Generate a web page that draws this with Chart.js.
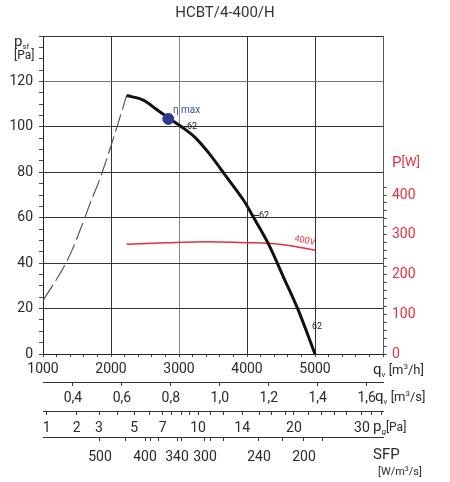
<!DOCTYPE html>
<html>
<head>
<meta charset="utf-8">
<script src="https://cdn.jsdelivr.net/npm/chart.js@4.4.0/dist/chart.umd.min.js"></script>
<style>
html, body { margin: 0; padding: 0; background: #fff; }
#wrap { width: 450px; height: 482px; }
</style>
</head>
<body>
<div id="wrap"><canvas id="c"></canvas></div>
<script>
// fan curve: static pressure [Pa] against air flow [m3/h]
const flowMain = [2230, 2475, 2672, 2843, 3015, 3235, 3456, 3701, 3950, 4070, 4313, 4534, 4754, 5000];
const pressMain = [113.8, 111.8, 107.6, 104.0, 100.5, 95.4, 87.8, 77.9, 67.7, 61.5, 48.6, 34.0, 19.3, 0];

// unstable part of the curve (dashed)
const flowStall = [1005, 1348, 1593, 1691, 1838, 2010, 2132, 2230];
const pressStall = [23.7, 40.6, 58.2, 66.2, 77.2, 92.6, 104.3, 113.8];

// input power [W] at 400V
const flowPower = [2230, 2820, 3400, 4000, 4313, 4730, 5000];
const power = [276, 280, 282.5, 280, 278.5, 270, 261];

// best efficiency point
const etaFlow = [2843];
const etaPress = [103.5];

// tick labels
const flowHourLabels = [1000, 2000, 3000, 4000, 5000];
const pressLabels = [0, 20, 40, 60, 80, 100, 120];
const powerLabels = [0, 100, 200, 300, 400];
const flowSecLabels = [0.4, 0.6, 0.8, 1.0, 1.2, 1.4, 1.6];
const pgTickFlow = [1054, 1496, 1824, 2099, 2340, 2563, 2760, 2893, 3040, 3160, 3280, 3456, 3651, 3930, 4191, 4363, 4560, 4690, 4901, 5099, 5294, 5466, 5690, 5834, 5981];
const pgTickLabels = ['1', '2', '3', '', '5', '', '7', '', '', '', '10', '', '', '14', '', '', '', '20', '', '', '', '', '30', '', ''];
const sfpTickFlow = [1838, 2206, 2500, 2574, 2696, 2971, 3044, 3382, 3456, 3651, 4176, 4529, 4838, 5103];
const sfpTickLabels = ['500', '', '400', '', '', '340', '', '300', '', '', '240', '', '200', ''];

const FONT = 'Roboto';
const TXT = '#2a2a2a';
const RED = '#e2313d';

function pts(xs, ys) {
    return xs.map((x, i) => ({ x: x, y: ys[i] }));
}

function runs(ctx, x, y, parts, color) {
    let cx = x;
    ctx.fillStyle = color;
    ctx.textAlign = 'left';
    ctx.textBaseline = 'middle';
    for (const [t, size, dy] of parts) {
        ctx.font = size + 'px ' + FONT;
        ctx.fillText(t, cx, y + dy);
        cx += ctx.measureText(t).width;
    }
}

const textPlugin = {
    id: 'texts',
    afterDraw(chart) {
        const ctx = chart.ctx;
        const x = chart.scales.x, y = chart.scales.y, p = chart.scales.y2;
        ctx.save();

        // axis captions
        runs(ctx, 14, 42, [['p', 15, 0], ['sf', 8, 5]], TXT);
        runs(ctx, 14, 56, [['[Pa]', 12, 0]], TXT);
        runs(ctx, 392, 163, [['P', 15, 0], ['[W]', 13, 0]], RED);
        runs(ctx, 373, 371, [['q', 15, -1], ['v', 8, 4], [' [m', 13, 0], ['3', 8, -4], ['/h]', 13, 0]], TXT);
        runs(ctx, 375, 398, [['q', 15, -1], ['v', 8, 4], [' [m', 13, 0], ['3', 8, -4], ['/s]', 13, 0]], TXT);
        runs(ctx, 373, 428, [['p', 15, -1], ['g', 8, 4], ['[Pa]', 12, 0]], TXT);
        runs(ctx, 373, 455, [['SFP', 15, 0]], TXT);
        runs(ctx, 378, 472, [['[W/m', 11, 0], ['3', 7, -3], ['/s]', 11, 0]], TXT);

        // eta max
        runs(ctx, x.getPixelForValue(2910), y.getPixelForValue(107), [['η max', 10, 0]], '#3a4aa0');

        // 62 markers along the curve: [flow, pressure, with leader]
        ctx.strokeStyle = '#222';
        ctx.lineWidth = 1;
        const marks = [[3044, 100, true], [4103, 61, true], [4956, 12, false]];
        for (const [q, pr, dash] of marks) {
            const px = x.getPixelForValue(q), py = y.getPixelForValue(pr);
            let tx = px;
            if (dash) {
                ctx.beginPath();
                ctx.moveTo(px, py);
                ctx.lineTo(px + 5, py);
                ctx.stroke();
                tx = px + 5;
            }
            runs(ctx, tx, py, [['62', 9, 0]], '#222');
        }

        // 400V on the power line
        ctx.translate(x.getPixelForValue(4850), p.getPixelForValue(285));
        ctx.rotate(0.22);
        ctx.fillStyle = RED;
        ctx.font = '9px ' + FONT;
        ctx.textAlign = 'center';
        ctx.textBaseline = 'middle';
        ctx.fillText('400V', 0, 0);
        ctx.restore();
    }
};

function setTicks(values) {
    return (scale) => {
        scale.ticks = values.map((v) => ({ value: v }));
    };
}

function range(a, b, step) {
    const out = [];
    for (let v = a; v <= b + 1e-9; v += step) out.push(v);
    return out;
}

const tickFont = { family: FONT, size: 14 };

new Chart(document.getElementById('c'), {
    data: {
        datasets: [
            {
                type: 'scatter',
                data: pts(etaFlow, etaPress),
                backgroundColor: '#2e3a94',
                borderColor: '#2e3a94',
                pointRadius: 5.5,
                order: 0,
            },
            {
                type: 'line',
                data: pts(flowMain, pressMain),
                borderColor: '#111',
                borderWidth: 3,
                pointRadius: 0,
                tension: 0.35,
                order: 1,
            },
            {
                type: 'line',
                data: pts(flowStall, pressStall),
                borderColor: '#555',
                borderWidth: 1.2,
                borderDash: [18, 5],
                pointRadius: 0,
                tension: 0.35,
                order: 2,
            },
            {
                type: 'line',
                data: pts(flowPower, power),
                yAxisID: 'y2',
                borderColor: RED,
                borderWidth: 1.5,
                pointRadius: 0,
                tension: 0.35,
                order: 3,
            },
        ],
    },
    options: {
        responsive: true,
        maintainAspectRatio: false,
        animation: false,
        devicePixelRatio: 1,
        layout: { padding: 0 },
        plugins: {
            legend: { display: false },
            tooltip: { enabled: false },
            title: {
                display: true,
                text: 'HCBT/4-400/H',
                color: '#333',
                font: { family: FONT, size: 15, weight: 'normal' },
                padding: { top: 4, bottom: 14 },
            },
        },
        scales: {
            x: {
                type: 'linear',
                position: 'bottom',
                weight: 0,
                min: 1000,
                max: 6000,
                afterBuildTicks: setTicks(range(1000, 6000, 200)),
                afterFit: (s) => { s.height = 28; },
                ticks: {
                    autoSkip: false,
                    maxRotation: 0,
                    padding: 4,
                    color: TXT,
                    font: tickFont,
                    callback: (v) => (flowHourLabels.includes(v) ? String(v) : ''),
                },
                grid: {
                    color: (c) => (c.tick && c.tick.value % 1000 === 0 ? (c.tick.value === 3000 ? '#888' : '#333') : 'rgba(0,0,0,0)'),
                    tickColor: '#444',
                    tickLength: 3,
                },
                border: { color: '#222' },
            },
            xs: {
                type: 'linear',
                position: 'bottom',
                weight: 1,
                min: 1000,
                max: 6000,
                afterBuildTicks: setTicks(flowSecLabels.map((v) => v * 3600)),
                afterFit: (s) => { s.height = 29; },
                ticks: {
                    autoSkip: false,
                    maxRotation: 0,
                    padding: 4,
                    color: TXT,
                    font: tickFont,
                    callback: (v, i) => flowSecLabels[i].toFixed(1).replace('.', ','),
                },
                grid: { drawOnChartArea: false, tickColor: '#333', tickLength: 4 },
                border: { color: '#333' },
            },
            xp: {
                type: 'linear',
                position: 'bottom',
                weight: 2,
                min: 1000,
                max: 6000,
                afterBuildTicks: setTicks(pgTickFlow),
                afterFit: (s) => { s.height = 26; },
                ticks: {
                    autoSkip: false,
                    maxRotation: 0,
                    padding: 5,
                    color: TXT,
                    font: tickFont,
                    callback: (v, i) => pgTickLabels[i],
                },
                grid: { drawOnChartArea: false, tickColor: '#333', tickLength: 4 },
                border: { color: '#333' },
            },
            xf: {
                type: 'linear',
                position: 'bottom',
                weight: 3,
                min: 1000,
                max: 6000,
                afterBuildTicks: setTicks(sfpTickFlow),
                afterFit: (s) => { s.height = 45; },
                ticks: {
                    autoSkip: false,
                    maxRotation: 0,
                    padding: 8,
                    color: TXT,
                    font: tickFont,
                    callback: (v, i) => sfpTickLabels[i],
                },
                grid: { drawOnChartArea: false, tickColor: '#333', tickLength: 4 },
                border: { color: '#333' },
            },
            y: {
                type: 'linear',
                position: 'left',
                min: 0,
                max: 140,
                afterBuildTicks: setTicks(range(0, 140, 5)),
                afterFit: (s) => { s.width = 43; },
                ticks: {
                    autoSkip: false,
                    padding: 6,
                    color: TXT,
                    font: tickFont,
                    callback: (v) => (pressLabels.includes(v) ? String(v) : ''),
                },
                grid: {
                    color: (c) => (c.tick && c.tick.value % 20 === 0 ? (c.tick.value === 120 ? '#777' : '#333') : 'rgba(0,0,0,0)'),
                    tickColor: '#444',
                    tickLength: 4,
                },
                border: { color: '#222' },
            },
            y2: {
                type: 'linear',
                position: 'right',
                min: 0,
                max: 800,
                afterBuildTicks: setTicks(range(0, 420, 20)),
                afterFit: (s) => { s.width = 67; },
                ticks: {
                    autoSkip: false,
                    padding: 5,
                    color: RED,
                    font: tickFont,
                    callback: (v) => (powerLabels.includes(v) ? String(v) : ''),
                },
                grid: { drawOnChartArea: false, tickColor: '#555', tickLength: 4 },
                border: { color: '#555' },
            },
        },
    },
    plugins: [textPlugin],
});
</script>
</body>
</html>
